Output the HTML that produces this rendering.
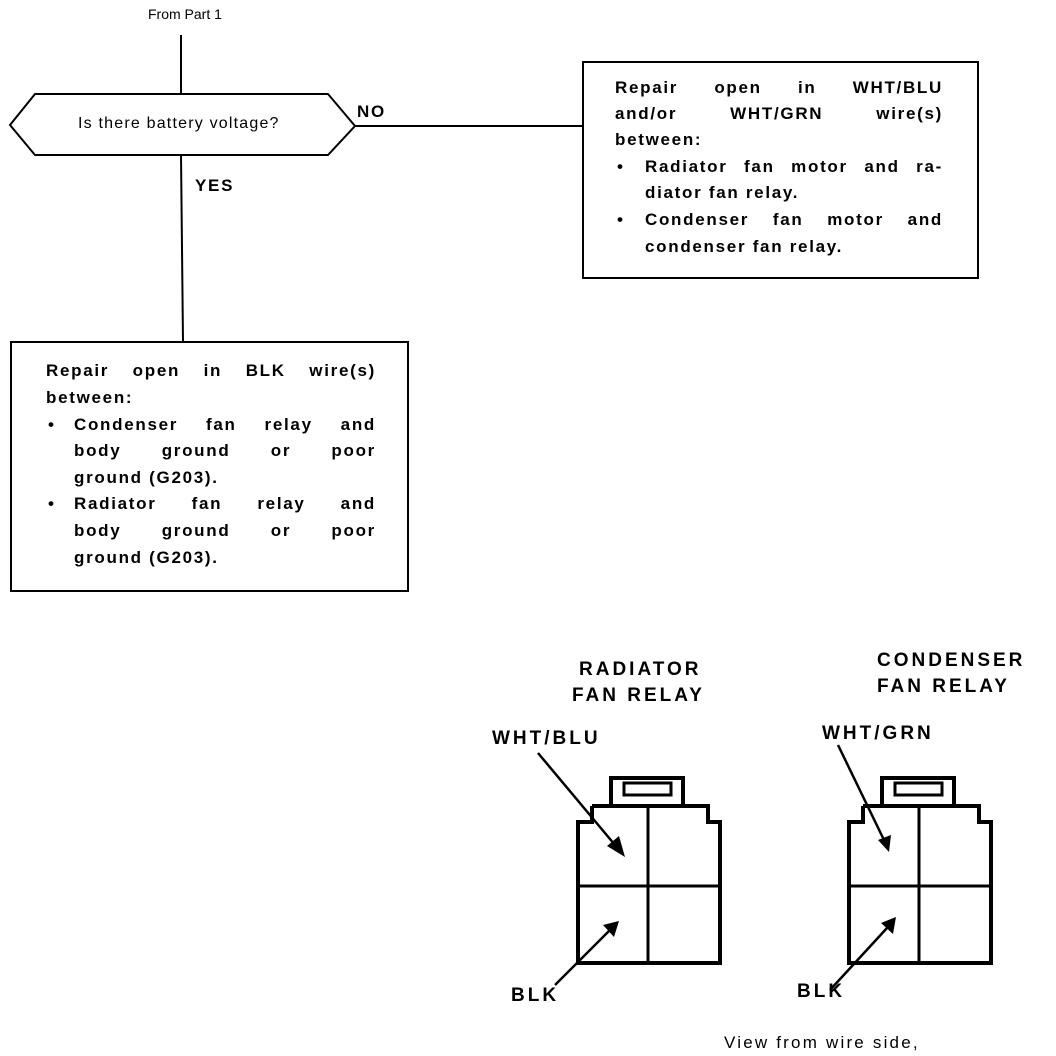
<!DOCTYPE html>
<html><head><style>
body{margin:0;width:1056px;height:1056px;background:#fff;position:relative;overflow:hidden;font-family:"Liberation Sans",Arial,sans-serif;color:#000}
.t{position:absolute;font-weight:bold;font-size:17px;letter-spacing:1.7px;white-space:nowrap;line-height:20px}
.j{text-align:justify;text-align-last:justify;white-space:normal}
.l{position:absolute;font-weight:bold;font-size:19px;letter-spacing:3px;white-space:nowrap;line-height:20px}
.n{position:absolute;font-size:14px;line-height:16px;white-space:nowrap}
</style></head><body>
<svg width="1056" height="1056" style="position:absolute;left:0;top:0" fill="none" stroke="#000">
<g stroke-width="2">
<line x1="181" y1="35" x2="181" y2="94"/>
<polygon points="10,125 35,94 328,94 355,126 328,155 35,155"/>
<line x1="181" y1="155" x2="183" y2="342"/>
<line x1="355" y1="126" x2="583" y2="126"/>
<rect x="583" y="62" width="395" height="216"/>
<rect x="11" y="342" width="397" height="249"/>
</g>
<g id="c1" stroke-width="4">
<rect x="611" y="778" width="72" height="28"/>
<rect x="624" y="783" width="47" height="12" stroke-width="3"/>
<polyline points="592,806 708,806 708,822 720,822 720,963 578,963 578,822 592,822 592,806"/>
<line x1="648" y1="806" x2="648" y2="963" stroke-width="3"/>
<line x1="578" y1="886" x2="720" y2="886" stroke-width="3"/>
</g>
<use href="#c1" x="271" y="0"/>
<g stroke-width="2.5">
<line x1="538" y1="753" x2="615" y2="845"/>
<line x1="555" y1="985" x2="610" y2="930"/>
<line x1="838" y1="745" x2="884" y2="840"/>
<line x1="830" y1="990" x2="887" y2="928"/>
</g>
<g fill="#000" stroke="none">
<polygon points="625,857 607,846 619,836"/>
<polygon points="619,921 614,937 603,925"/>
<polygon points="889,852 878,840 891,835"/>
<polygon points="896,917 893,934 881,923"/>
</g>
</svg>
<div class="n" style="left:148px;top:6px">From Part 1</div>
<div class="n" style="left:78px;top:116px;font-size:16px;letter-spacing:1.2px">Is there battery voltage?</div>
<div class="t" style="left:357px;top:102px">NO</div>
<div class="t" style="left:195px;top:176px">YES</div>

<div class="t j" style="left:615px;top:78px;width:328px">Repair open in WHT/BLU</div>
<div class="t j" style="left:615px;top:104px;width:328px">and/or WHT/GRN wire(s)</div>
<div class="t" style="left:615px;top:130px">between:</div>
<div class="t" style="left:617px;top:157px">•</div>
<div class="t j" style="left:645px;top:157px;width:298px">Radiator fan motor and ra-</div>
<div class="t" style="left:645px;top:183px">diator fan relay.</div>
<div class="t" style="left:617px;top:210px">•</div>
<div class="t j" style="left:645px;top:210px;width:298px">Condenser fan motor and</div>
<div class="t" style="left:645px;top:237px">condenser fan relay.</div>

<div class="t j" style="left:46px;top:361px;width:330px">Repair open in BLK wire(s)</div>
<div class="t" style="left:46px;top:388px">between:</div>
<div class="t" style="left:48px;top:415px">•</div>
<div class="t j" style="left:74px;top:415px;width:302px">Condenser fan relay and</div>
<div class="t j" style="left:74px;top:441px;width:302px">body ground or poor</div>
<div class="t" style="left:74px;top:468px">ground (G203).</div>
<div class="t" style="left:48px;top:494px">•</div>
<div class="t j" style="left:74px;top:494px;width:302px">Radiator fan relay and</div>
<div class="t j" style="left:74px;top:521px;width:302px">body ground or poor</div>
<div class="t" style="left:74px;top:548px">ground (G203).</div>

<div class="l" style="left:579px;top:660px">RADIATOR</div>
<div class="l" style="left:572px;top:686px">FAN RELAY</div>
<div class="l" style="left:877px;top:651px">CONDENSER</div>
<div class="l" style="left:877px;top:677px">FAN RELAY</div>
<div class="l" style="left:492px;top:729px">WHT/BLU</div>
<div class="l" style="left:822px;top:724px">WHT/GRN</div>
<div class="l" style="left:511px;top:986px">BLK</div>
<div class="l" style="left:797px;top:982px">BLK</div>
<div class="n" style="left:724px;top:1035px;font-size:17px;letter-spacing:2.2px">View from wire side,</div>
</body></html>
